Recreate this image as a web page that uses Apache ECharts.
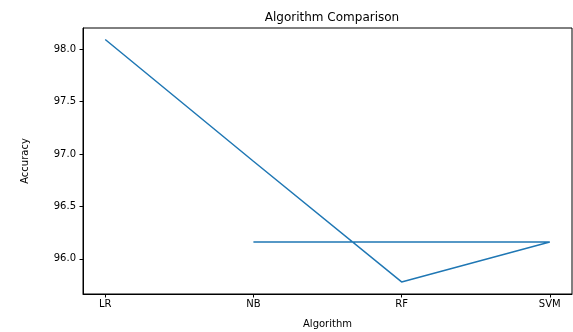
<!DOCTYPE html>
<html>
<head>
<meta charset="utf-8">
<script src="https://cdn.jsdelivr.net/npm/echarts@6/dist/echarts.min.js"></script>
<style>html,body{margin:0;padding:0;background:#fff}#c{width:573px;height:332px}</style>
</head>
<body>
<div id="c"></div>
<script>
var categories = ['LR', 'NB', 'RF', 'SVM'];
var pathCategories = ['LR', 'NB', 'RF', 'SVM', 'NB'];
var pathValues = [98.09, 96.93, 95.78, 96.16, 96.16];
var yTicks = [96.0, 96.5, 97.0, 97.5, 98.0];

var data = pathCategories.map(function (c, i) { return [categories.indexOf(c), pathValues[i]]; });
var font = 'DejaVu Sans';
var chart = echarts.init(document.getElementById('c'), null, {renderer: 'canvas'});
chart.setOption({
  animation: false,
  title: {
    text: 'Algorithm Comparison', left: 327, top: 7, textAlign: 'center',
    textStyle: {fontFamily: font, fontSize: 12, fontWeight: 'normal', color: '#000'}
  },
  grid: {left: 83, right: 1, top: 28, bottom: 38, containLabel: false, outerBoundsMode: 'none',
    show: true, borderColor: '#000', borderWidth: 1, backgroundColor: 'transparent'},
  xAxis: {
    type: 'value', min: -0.15, max: 3.15,
    name: 'Algorithm', nameLocation: 'middle', nameGap: 25,
    nameTextStyle: {fontFamily: font, fontSize: 10, color: '#000'},
    splitLine: {show: false},
    axisLine: {show: true, onZero: false, lineStyle: {color: '#000', width: 1}},
    axisTick: {show: true, length: 3.5, lineStyle: {color: '#000'}, customValues: [0, 1, 2, 3]},
    axisLabel: {
      fontFamily: font, fontSize: 10, color: '#000', margin: 5,
      customValues: [0, 1, 2, 3],
      formatter: function (v) { return categories[Math.round(v)] || ''; }
    }
  },
  yAxis: {
    type: 'value', min: 95.665, max: 98.2,
    name: 'Accuracy', nameLocation: 'middle', nameGap: 53, nameRotate: 90,
    nameTextStyle: {fontFamily: font, fontSize: 10, color: '#000'},
    splitLine: {show: false},
    axisLine: {show: true, onZero: false, lineStyle: {color: '#000', width: 1}},
    axisTick: {show: true, length: 3.5, lineStyle: {color: '#000'}, customValues: yTicks},
    axisLabel: {
      fontFamily: font, fontSize: 10, color: '#000', margin: 7,
      customValues: yTicks,
      formatter: function (v) { return v.toFixed(1); }
    }
  },
  series: [{
    type: 'line', data: data, showSymbol: false, symbol: 'none',
    lineStyle: {color: '#1f77b4', width: 1.5},
    z: 3
  }]
});
</script>
</body>
</html>
